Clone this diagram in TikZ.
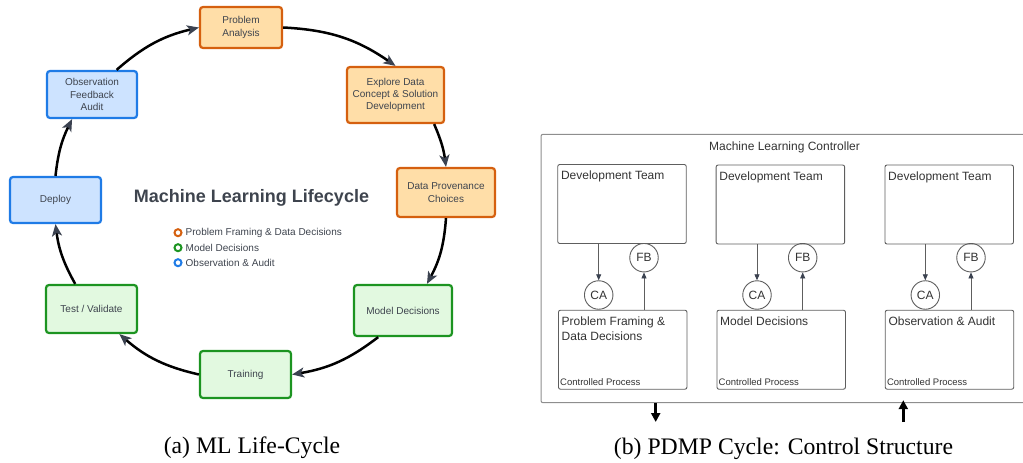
\documentclass[tikz,border=0pt]{standalone}
\usepackage{fontspec}
\setmainfont{Liberation Serif}
\setsansfont{Liberation Sans}
\usetikzlibrary{arrows.meta,positioning}

\definecolor{orangefill}{HTML}{FFDEA8}
\definecolor{orangeline}{HTML}{D5600F}
\definecolor{bluefill}{HTML}{CDE3FF}
\definecolor{blueline}{HTML}{1F7BE6}
\definecolor{greenfill}{HTML}{E2F9E0}
\definecolor{greenline}{HTML}{1C9421}
\definecolor{inktext}{HTML}{3E444E}
\definecolor{tipgray}{HTML}{3B4250}
\definecolor{boxgray}{HTML}{5E5E5E}
\definecolor{framegray}{HTML}{8E8E8E}

\begin{document}
\begin{tikzpicture}[x=1pt,y=-1pt,
    stage/.style={draw,rounded corners=3pt,line width=2.2pt,align=center,inner sep=0pt,
      font=\sffamily\fontsize{10}{12.4}\selectfont,text=inktext},
    framing/.style={stage,draw=orangeline,fill=orangefill},
    modelling/.style={stage,draw=greenline,fill=greenfill},
    auditing/.style={stage,draw=blueline,fill=bluefill},
    cycle/.style={line width=2.5pt,-{Stealth[length=12pt,width=10pt,inset=3pt,color=tipgray]}},
    legenddot/.style={circle,draw,line width=2pt,fill=white,minimum size=7pt,inner sep=0pt},
    legendtext/.style={anchor=west,inner sep=0pt,font=\sffamily\fontsize{10}{12}\selectfont,text=inktext},
    teambox/.style={draw=boxgray,line width=0.9pt,rounded corners=2pt,minimum width=128.5pt,minimum height=79pt,inner sep=0pt},
    boxtext/.style={anchor=north west,inner xsep=3.5pt,inner ysep=7pt,align=left,
      font=\sffamily\fontsize{12}{15}\selectfont,text=black!80},
    cptext/.style={anchor=south west,inner xsep=2pt,inner ysep=4pt,
      font=\sffamily\fontsize{9.5}{11}\selectfont,text=black!80},
    signal/.style={circle,draw=boxgray,line width=0.9pt,minimum size=28.5pt,inner sep=0pt,
      font=\sffamily\fontsize{12}{14}\selectfont,text=black!80},
    ctrl/.style={draw=boxgray,line width=0.8pt,-{Triangle[length=6pt,width=5pt,color=tipgray]}},
    io/.style={line width=2.5pt,-{Triangle[length=9pt,width=9pt]}},
    caption/.style={font=\fontsize{23.7}{28}\selectfont}]
    \useasboundingbox (0,0) rectangle (1023,463);

    % (a) Stages of the life cycle
    \node[framing,minimum width=82pt,minimum height=41pt] (pa) at (241,27.5) {Problem\\Analysis};
    \node[framing,minimum width=97pt,minimum height=56pt] (ed) at (395.5,95) {Explore Data\\Concept \& Solution\\Development};
    \node[framing,minimum width=98pt,minimum height=49pt] (dp) at (446,192.5) {Data Provenance\\Choices};
    \node[modelling,minimum width=98pt,minimum height=51pt] (md) at (403,310.5) {Model Decisions};
    \node[modelling,minimum width=91pt,minimum height=47pt] (tr) at (245.5,374.5) {Training};
    \node[modelling,minimum width=91pt,minimum height=48pt] (tv) at (91.5,309) {Test / Validate};
    \node[auditing,minimum width=91pt,minimum height=46pt] (de) at (55.5,200) {Deploy};
    \node[auditing,minimum width=90pt,minimum height=47pt] (ob) at (92,94.5) {Observation\\Feedback\\Audit};

    % Arcs round the cycle
    \draw[cycle] (pa.east) to[bend left=16] (ed.north);
    \draw[cycle] (ed.-37) to[bend left=8] (dp.north);
    \draw[cycle] (dp.south) to[bend left=12] (md.48);
    \draw[cycle] (md.-133) to[bend left=14] (tr.east);
    \draw[cycle] (tr.west) to[bend left=14] (tv.-42);
    \draw[cycle] (tv.123) to[bend left=11] (de.south);
    \draw[cycle] (de.north) to[bend left=10] (ob.-129);
    \draw[cycle] (ob.45) to[bend left=14] (pa.west);

    % Title and legend
    \node[font=\sffamily\bfseries\fontsize{18}{21}\selectfont,text=inktext] (lctitle) at (251.5,198) {Machine Learning Lifecycle};
    \node[legendtext] (lg1) at (185.5,232.7) {Problem Framing \& Data Decisions};
    \node[legendtext] (lg2) at (185.5,247.7) {Model Decisions};
    \node[legendtext] (lg3) at (185.5,262.7) {Observation \& Audit};
    \node[legenddot,draw=orangeline] (ld1) at (178,232.7) {};
    \node[legenddot,draw=greenline] (ld2) at (178,247.7) {};
    \node[legenddot,draw=blueline] (ld3) at (178,262.7) {};

    % (b) Controller frame
    \node[draw=framegray,line width=1pt,rounded corners=2pt,minimum width=499pt,minimum height=268.4pt,inner sep=0pt] (mlc) at (790.5,268.5) {};
    \node[font=\sffamily\fontsize{12}{14}\selectfont,text=black!80] (mlctitle) at (784.5,147.7) {Machine Learning Controller};

    % Development teams
    \node[teambox,label={[boxtext]north west:Development Team}] (dt1) at (622,204) {};
    \node[teambox,label={[boxtext]north west:Development Team}] (dt2) at (780.4,204.5) {};
    \node[teambox,label={[boxtext]north west:Development Team}] (dt3) at (949.2,204.5) {};

    % Controlled processes
    \node[teambox,label={[boxtext]north west:Problem Framing \&\\Data Decisions},label={[cptext]south west:Controlled Process}] (cp1) at (622.7,349.7) {};
    \node[teambox,label={[boxtext]north west:Model Decisions},label={[cptext]south west:Controlled Process}] (cp2) at (781.2,349.7) {};
    \node[teambox,label={[boxtext]north west:Observation \& Audit},label={[cptext]south west:Controlled Process}] (cp3) at (949.5,349.7) {};

    % Control actions and feedback
    \node[signal] (ca1) at (598.7,295) {CA};
    \node[signal] (ca2) at (757,295) {CA};
    \node[signal] (ca3) at (925.3,295) {CA};
    \node[signal] (fb1) at (644,257.7) {FB};
    \node[signal] (fb2) at (802.7,257.7) {FB};
    \node[signal] (fb3) at (971,257.7) {FB};
    \draw[ctrl] (dt1.south -| ca1) -- (ca1);
    \draw[ctrl] (dt2.south -| ca2) -- (ca2);
    \draw[ctrl] (dt3.south -| ca3) -- (ca3);
    \draw[ctrl] (cp1.north -| fb1) -- (fb1);
    \draw[ctrl] (cp2.north -| fb2) -- (fb2);
    \draw[ctrl] (cp3.north -| fb3) -- (fb3);

    % In and out of the controller
    \coordinate (cmdout) at (655.7,422);
    \coordinate (fbin) at (903.3,422);
    \draw[io] (mlc.south -| cmdout) -- (cmdout);
    \draw[io,shorten >=-3pt] (fbin) -- (mlc.south -| fbin);

    % Captions
    \node[caption] (capa) at (252,448) {(a) ML Life-Cycle};
    \node[caption] (capb) at (783.5,449) {(b) PDMP Cycle: Control Structure};
\end{tikzpicture}
\end{document}
